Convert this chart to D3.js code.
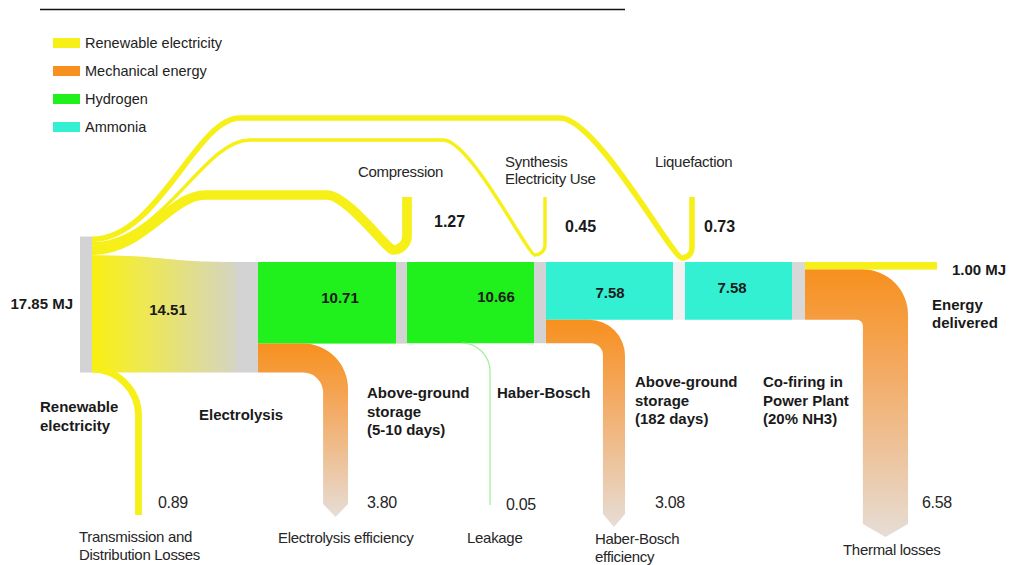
<!DOCTYPE html>
<html lang="en">
<head>
<meta charset="utf-8">
<title>Renewable ammonia energy chain</title>
<script src="https://cdn.jsdelivr.net/npm/d3@7"></script>
<style>
  body { margin: 0; background: #fff; }
  svg { display: block; font-family: "Liberation Sans", Arial, sans-serif; }
  .lbl { font-size: 15px; fill: #262626; letter-spacing: -0.3px; }
  .bold { font-weight: bold; fill: #1a1a1a; letter-spacing: 0; }
  .big { font-size: 16px; }
  .legend { font-size: 14.5px; fill: #222; }
</style>
</head>
<body>
<svg width="1016" height="565"></svg>
<script>
// ---- data (MJ) ----
var sourceValue = 17.85;
var sourceLabel = "17.85 MJ";

var legendLabels = ["Renewable electricity", "Mechanical energy", "Hydrogen", "Ammonia"];

var stageLabels = [
  ["Renewable", "electricity"],
  ["Electrolysis"],
  ["Above-ground", "storage", "(5-10 days)"],
  ["Haber-Bosch"],
  ["Above-ground", "storage", "(182 days)"],
  ["Co-firing in", "Power Plant", "(20% NH3)"]
];

// carrier leaving each stage (towards the next one)
var carrierValues = [14.51, 10.71, 10.66, 7.58, 7.58];
var carrierTypes  = ["elec", "h2", "h2", "nh3", "nh3"];

// extra electricity fed into stages 2, 3, 4
var inputLabels = [["Compression"], ["Synthesis", "Electricity Use"], ["Liquefaction"]];
var inputValues = [1.27, 0.45, 0.73];

var lossLabels = [
  ["Transmission and", "Distribution Losses"],
  ["Electrolysis efficiency"],
  ["Leakage"],
  ["Haber-Bosch", "efficiency"],
  ["Thermal losses"]
];
var lossValues = [0.89, 3.80, 0.05, 3.08, 6.58];

var deliveredValue = 1.00;
var deliveredLabel = ["Energy", "delivered"];

// ---- look ----
var color = {
  elec: "#f6ef18",
  mech: "#f7901e",
  h2:   "#20f01c",
  nh3:  "#33f0d3",
  node: "#d3d3d3"
};
var legendColors = [color.elec, color.mech, color.h2, color.nh3];

var svg = d3.select("svg");
var defs = svg.append("defs");

// band thickness scale
var k = d3.scaleLinear().domain([0, sourceValue]).range([0, 136]);
var fmt = d3.format(".2f");

// layout of the process stages
var nodeX = [80, 237, 396, 534, 673, 792];
var nodeW = [12, 21, 11, 12, 12, 13];
var y0 = 262;                                   // top of carrier bars
var srcBot = y0 + k(carrierValues[0]);
var srcTop = srcBot - k(sourceValue);
var srcRight = nodeX[0] + nodeW[0];

// top rule
svg.append("line")
    .attr("x1", 40).attr("x2", 625).attr("y1", 9.5).attr("y2", 9.5)
    .attr("stroke", "#111").attr("stroke-width", 1.5);

// legend
var legend = svg.append("g").selectAll("g")
  .data(legendLabels)
  .enter().append("g")
    .attr("transform", function(d, i) { return "translate(53," + (43 + i * 28) + ")"; });
legend.append("rect")
    .attr("x", 0).attr("y", -5).attr("width", 27).attr("height", 10)
    .attr("fill", function(d, i) { return legendColors[i]; });
legend.append("text")
    .attr("class", "legend")
    .attr("x", 32).attr("y", 5)
    .text(function(d) { return d; });

// ---- main electricity band (source -> electrolysis) ----
var grad = defs.append("linearGradient")
    .attr("id", "elecFade").attr("gradientUnits", "userSpaceOnUse")
    .attr("x1", srcRight).attr("x2", nodeX[1]).attr("y1", 0).attr("y2", 0);
grad.append("stop").attr("offset", 0).attr("stop-color", "#f8f010");
grad.append("stop").attr("offset", 0.3).attr("stop-color", "#f0ea48");
grad.append("stop").attr("offset", 1).attr("stop-color", "#d4d4c4");

var inputSum = d3.sum(inputValues);
var bandTop = srcTop + k(inputSum);
var mid = (nodeX[1] - srcRight) / 2;
var p = d3.path();
p.moveTo(srcRight, bandTop);
p.bezierCurveTo(srcRight + mid, bandTop, nodeX[1] - mid, y0, nodeX[1], y0);
p.lineTo(nodeX[1], srcBot);
p.lineTo(srcRight, srcBot);
p.closePath();
svg.append("path").attr("d", p.toString()).attr("fill", "url(#elecFade)");

// transmission losses (yellow, down from the source bottom)
var lossEnd = [515, 517, 505, 527, 537];
(function() {
  var w = k(lossValues[0]), r = 46.5, yc = srcBot - w / 2;
  var q = d3.path();
  q.moveTo(srcRight, yc);
  q.arc(srcRight, yc + r, r, -Math.PI / 2, 0);
  q.lineTo(srcRight + r, lossEnd[0]);
  svg.append("path").attr("d", q.toString())
      .attr("fill", "none").attr("stroke", color.elec).attr("stroke-width", w);
})();

// ---- electricity inputs: loops from the source top to each stage ----
var loopTop   = [195, 140, 118];
var loopRise  = [205, 250, 240];
var loopFall  = [327, 443, 560];
var loopStubX = [407, 545, 692];
var loopR     = [14, 10, 10];
var loopBot   = [250, 255, 258];
var stubTop   = 197;

// stacking at the source: last input on top
var acc = srcTop;
var loopStart = [];
for (var i = inputValues.length - 1; i >= 0; i--) {
  loopStart[i] = acc + k(inputValues[i]) / 2;
  acc += k(inputValues[i]);
}

svg.append("g").selectAll("path")
  .data(inputValues)
  .enter().append("path")
    .attr("fill", "none")
    .attr("stroke", color.elec)
    .attr("stroke-width", function(d) { return k(d); })
    .attr("d", function(d, i) {
      var q = d3.path();
      var ys = loopStart[i], yt = loopTop[i], dx = loopRise[i] - srcRight;
      var ux = loopStubX[i] - loopR[i], yb = loopBot[i];
      q.moveTo(srcRight, ys);
      q.bezierCurveTo(srcRight + dx * 0.45, ys, loopRise[i] - dx * 0.3, yt, loopRise[i], yt);
      q.lineTo(loopFall[i], yt);
      var dd = ux - loopFall[i];
      q.bezierCurveTo(loopFall[i] + dd * 0.3, yt, ux - dd * 0.08, yb, ux, yb);
      q.arc(ux, yb - loopR[i], loopR[i], Math.PI / 2, 0, true);
      q.lineTo(loopStubX[i], stubTop);
      return q.toString();
    });

// ---- carrier bars between stages ----
svg.append("g").selectAll("rect")
  .data(carrierValues.slice(1))
  .enter().append("rect")
    .attr("x", function(d, i) { return nodeX[i + 1] + nodeW[i + 1]; })
    .attr("y", y0)
    .attr("width", function(d, i) { return nodeX[i + 2] - nodeX[i + 1] - nodeW[i + 1]; })
    .attr("height", function(d) { return k(d); })
    .attr("fill", function(d, i) { return color[carrierTypes[i + 1]]; });

// energy delivered
var lastX = nodeX[5] + nodeW[5];
svg.append("rect")
    .attr("x", lastX).attr("y", y0)
    .attr("width", 132).attr("height", k(deliveredValue))
    .attr("fill", color.elec);

// ---- process nodes (grey) ----
var nodeTop = [srcTop, y0, y0, y0, y0, y0];
var nodeH = [k(sourceValue)].concat(carrierValues.map(function(v) { return k(v); }));
var nodeFill = [color.node, color.node, color.node, color.node, "#f1f1f1", "#d8d8d8"];
svg.append("g").selectAll("rect")
  .data(nodeX)
  .enter().append("rect")
    .attr("x", function(d) { return d; })
    .attr("y", function(d, i) { return nodeTop[i]; })
    .attr("width", function(d, i) { return nodeW[i]; })
    .attr("height", function(d, i) { return nodeH[i]; })
    .attr("fill", function(d, i) { return nodeFill[i]; });

// ---- mechanical (heat) losses: orange bends with arrow tips ----
var bends = [
  { loss: 1, stage: 1, above: carrierValues[1], below: carrierValues[0], xR: 348, taper: 0.86, ro: 45, ri: 20 },
  { loss: 3, stage: 3, above: carrierValues[3], below: carrierValues[2], xR: 625, taper: 0.94, ro: 36, ri: 12 },
  { loss: 4, stage: 5, above: deliveredValue,   below: carrierValues[4], xR: 908, taper: 0.90, ro: 45, ri: 6 }
];
var tipH = 13;

bends.forEach(function(b, j) {
  var x0 = nodeX[b.stage] + nodeW[b.stage];
  var yT = y0 + k(b.above), yB = y0 + k(b.below);
  var vw = k(lossValues[b.loss]) * b.taper;
  var xL = b.xR - vw, tip = lossEnd[b.loss];
  var g = defs.append("linearGradient")
      .attr("id", "heat" + j).attr("gradientUnits", "userSpaceOnUse")
      .attr("x1", 0).attr("x2", 0).attr("y1", yT).attr("y2", tip);
  g.append("stop").attr("offset", 0).attr("stop-color", "#f7901e");
  g.append("stop").attr("offset", 0.35).attr("stop-color", "#f4a85e");
  g.append("stop").attr("offset", 1).attr("stop-color", "#e6ddd6");
  var d = "M" + x0 + "," + yT +
      "H" + (b.xR - b.ro) +
      "A" + b.ro + "," + b.ro + " 0 0 1 " + b.xR + "," + (yT + b.ro) +
      "V" + (tip - tipH) +
      "L" + ((xL + b.xR) / 2) + "," + tip +
      "L" + xL + "," + (tip - tipH) +
      "V" + (yB + b.ri) +
      "A" + b.ri + "," + b.ri + " 0 0 0 " + (xL - b.ri) + "," + yB +
      "H" + x0 + "Z";
  svg.append("path").attr("d", d).attr("fill", "url(#heat" + j + ")");
});

// leakage (hydrogen, hairline)
(function() {
  var yl = y0 + k(carrierValues[2]), r = 28, xv = 490;
  var q = d3.path();
  q.moveTo(xv - r, yl);
  q.arc(xv - r, yl + r, r, -Math.PI / 2, 0);
  q.lineTo(xv, lossEnd[2]);
  svg.append("path").attr("d", q.toString())
      .attr("fill", "none").attr("stroke", "#a6eea0")
      .attr("stroke-width", Math.max(k(lossValues[2]), 1.3));
})();

// ---- text ----
function multiline(sel, lines, x, y, lh) {
  sel.selectAll("tspan").data(lines).enter().append("tspan")
      .attr("x", x).attr("y", function(d, i) { return y + i * lh; })
      .text(function(d) { return d; });
}

var stagePos = [[40, 412], [199, 420], [367, 398], [497, 398], [635, 387], [763, 387]];
stageLabels.forEach(function(lines, i) {
  multiline(svg.append("text").attr("class", "lbl bold"), lines, stagePos[i][0], stagePos[i][1], 18.5);
});

var inputPos = [[358, 177], [505, 167], [655, 167]];
var inputValPos = [[434, 227], [565, 232], [704, 232]];
inputLabels.forEach(function(lines, i) {
  multiline(svg.append("text").attr("class", "lbl"), lines, inputPos[i][0], inputPos[i][1], 17);
  svg.append("text").attr("class", "lbl bold big")
      .attr("x", inputValPos[i][0]).attr("y", inputValPos[i][1])
      .text(fmt(inputValues[i]));
});

var lossPos = [[79, 542], [278, 543], [467, 543], [595, 544], [843, 555]];
var lossValPos = [[158, 508], [367, 508], [506, 510], [655, 508], [922, 508]];
lossLabels.forEach(function(lines, i) {
  multiline(svg.append("text").attr("class", "lbl"), lines, lossPos[i][0], lossPos[i][1], 18);
  svg.append("text").attr("class", "lbl big")
      .attr("x", lossValPos[i][0]).attr("y", lossValPos[i][1])
      .text(fmt(lossValues[i]));
});

var barLabelPos = [[168, 315], [340, 303], [496, 302], [610, 298], [732, 293]];
carrierValues.forEach(function(v, i) {
  svg.append("text").attr("class", "lbl bold")
      .attr("text-anchor", "middle")
      .attr("x", barLabelPos[i][0]).attr("y", barLabelPos[i][1])
      .text(fmt(v));
});

svg.append("text").attr("class", "lbl bold")
    .attr("text-anchor", "end").attr("x", 73).attr("y", 309)
    .text(sourceLabel);

svg.append("text").attr("class", "lbl bold")
    .attr("x", 952).attr("y", 275)
    .text(fmt(deliveredValue) + " MJ");
multiline(svg.append("text").attr("class", "lbl bold"), deliveredLabel, 932, 310, 18);
</script>
</body>
</html>
